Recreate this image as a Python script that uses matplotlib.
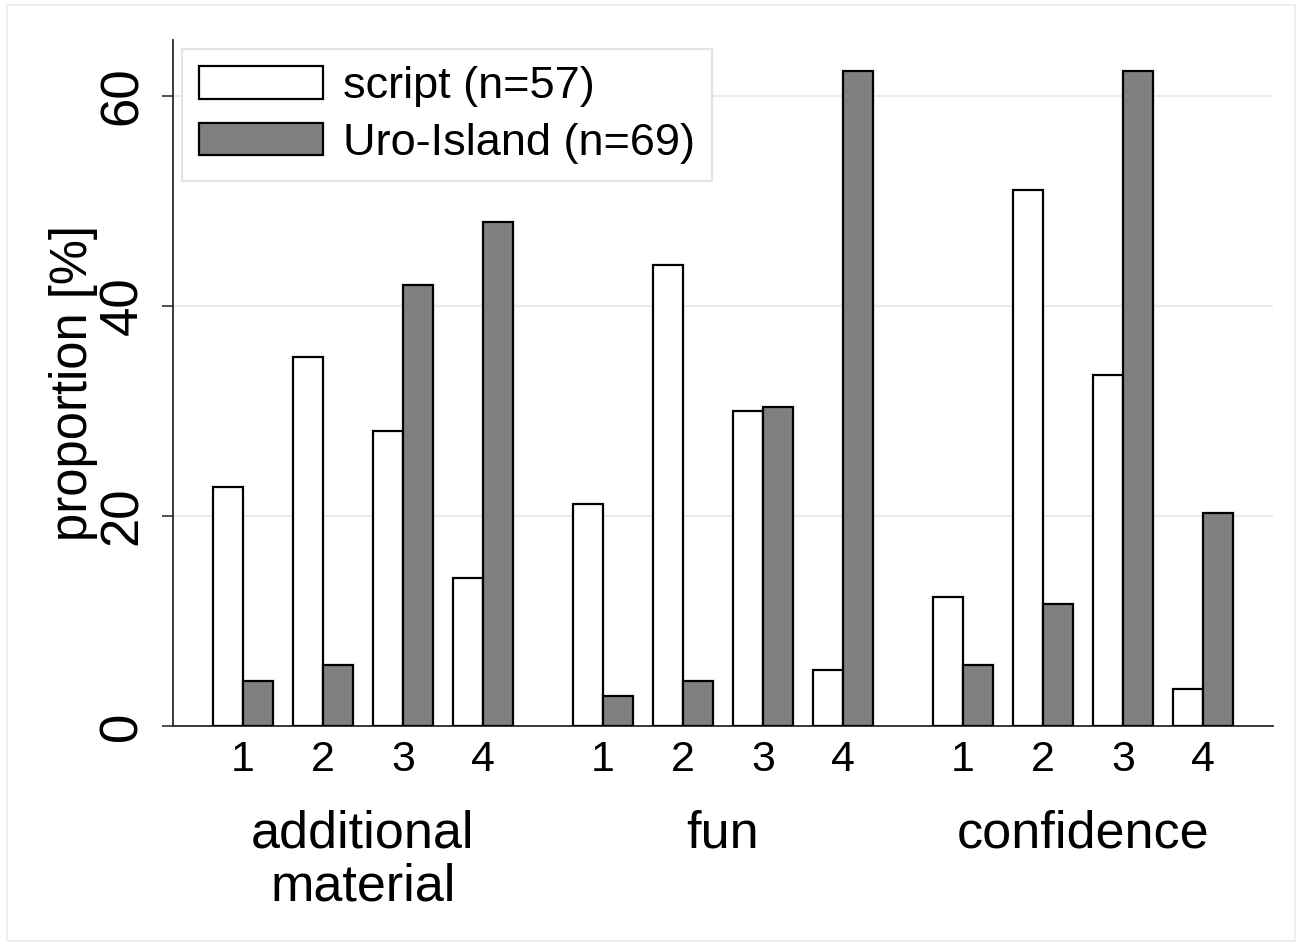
import matplotlib
matplotlib.use("Agg")
import matplotlib.pyplot as plt
from matplotlib.patches import Rectangle
import numpy as np

plt.rcParams['font.family'] = ['Liberation Sans', 'DejaVu Sans']

groups = ["additional\nmaterial", "fun", "confidence"]
levels = ["1", "2", "3", "4"]
series = ["script (n=57)", "Uro-Island (n=69)"]
script_vals = [22.8, 35.1, 28.1, 14.1,
               21.1, 43.9, 30.0, 5.3,
               12.3, 51.0, 33.4, 3.5]
uro_vals = [4.3, 5.8, 42.0, 48.0,
            2.9, 4.3, 30.4, 62.4,
            5.8, 11.6, 62.4, 20.3]

fig = plt.figure(figsize=(13.02, 9.46), dpi=100)
fig.patches.append(Rectangle((7/1302, 5/946), 1288/1302, 936/946, transform=fig.transFigure,
                             fill=False, edgecolor='#eef0f0', linewidth=1.5))
ax = fig.add_axes([173/1302, 1 - 726/946, 1100/1302, 686/946])

gap = 0.5
pos = []
for g in range(len(groups)):
    for l in range(len(levels)):
        pos.append(g * (len(levels) + gap) + l)
pos = np.array(pos, dtype=float)
w = 0.375

ax.bar(pos - w / 2, script_vals, width=w, color='white', edgecolor='black', linewidth=1.6,
       label=series[0], zorder=3)
ax.bar(pos + w / 2, uro_vals, width=w, color='#808080', edgecolor='black', linewidth=1.6,
       label=series[1], zorder=3)

ax.set_xlim(pos[0] - 0.875, pos[-1] + 0.875)
ax.set_ylim(0, 65.33)
ax.set_yticks([0, 20, 40, 60])
ax.set_yticklabels(["0", "20", "40", "60"], rotation=90, va='center', fontsize=38)
for yv in [20, 40, 60]:
    ax.axhline(yv, color='#ebebeb', linewidth=1.5, zorder=0)

ax.set_xticks(pos)
ax.set_xticklabels(levels * len(groups), fontsize=31)
ax.tick_params(axis='x', length=0, pad=10)
ax.tick_params(axis='y', length=8, width=1.2, color='#333333', pad=10)

for s in ['top', 'right']:
    ax.spines[s].set_visible(False)
for s in ['left', 'bottom']:
    ax.spines[s].set_color('#2a2a2a')
    ax.spines[s].set_linewidth(1.3)

ax.set_ylabel("proportion [%]", fontsize=36.5, labelpad=0)

for g, name in enumerate(groups):
    cx = g * (len(levels) + gap) + 1.5
    ax.text(cx, -0.122, name, transform=ax.get_xaxis_transform(), ha='center', va='top',
            fontsize=37.5, linespacing=1.1)

leg = ax.legend(loc='upper left', fontsize=32.5, handlelength=2.75, handleheight=0.73,
                handletextpad=0.44, labelspacing=0.35, borderpad=0.37, borderaxespad=0.21,
                fancybox=False, framealpha=1, edgecolor='#e4e4e4')
leg.get_frame().set_linewidth(1.5)

fig.savefig("out.png", dpi=100, facecolor='white')
